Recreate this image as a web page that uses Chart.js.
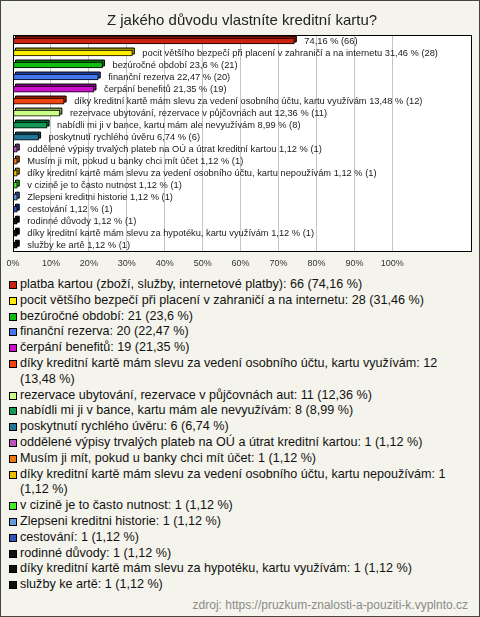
<!DOCTYPE html>
<html>
<head>
<meta charset="utf-8">
<script src="https://cdn.jsdelivr.net/npm/chart.js@4/dist/chart.umd.min.js"></script>
<style>
  html, body { margin: 0; padding: 0; }
  #frame {
    position: relative;
    width: 480px;
    height: 617px;
    box-sizing: border-box;
    border: 1px solid #444;
    background: #f5f4ec;
    font-family: 'Liberation Sans', Arial, sans-serif;
    overflow: hidden;
  }
  #chart { position: absolute; left: -1px; top: -1px; }
  #legend {
    position: absolute;
    left: 8px;
    top: 276px;
    width: 462px;
    font-size: 12.6px;
    line-height: 15.8px;
    color: #111;
  }
  .item { display: flex; align-items: flex-start; }
  .box {
    flex: none;
    width: 6px;
    height: 6px;
    border: 1px solid #000;
    margin: 4px 3px 0 0;
  }
  #source {
    position: absolute;
    right: 11px;
    top: 597px;
    font-size: 12px;
    line-height: 14px;
    color: #8a8a8a;
  }
</style>
</head>
<body>
<div id="frame">
  <canvas id="chart" width="480" height="277"></canvas>
  <div id="legend"></div>
  <div id="source">zdroj: https://pruzkum-znalosti-a-pouziti-k.vyplnto.cz</div>
</div>
<script>
const reasons = [
  'platba kartou (zboží, služby, internetové platby)',
  'pocit většího bezpečí při placení v zahraničí a na internetu',
  'bezúročné období',
  'finanční rezerva',
  'čerpání benefitů',
  'díky kreditní kartě mám slevu za vedení osobního účtu, kartu využívám',
  'rezervace ubytování, rezervace v půjčovnách aut',
  'nabídli mi ji v bance, kartu mám ale nevyužívám',
  'poskytnutí rychlého úvěru',
  'oddělené výpisy trvalých plateb na OÚ a útrat kreditní kartou',
  'Musím ji mít, pokud u banky chci mít účet',
  'díky kreditní kartě mám slevu za vedení osobního účtu, kartu nepoužívám',
  'v cizině je to často nutnost',
  'Zlepseni kreditni historie',
  'cestování',
  'rodinné důvody',
  'díky kreditní kartě mám slevu za hypotéku, kartu využívám',
  'služby ke artě',
];
const counts = [66, 28, 21, 20, 19, 12, 11, 8, 6, 1, 1, 1, 1, 1, 1, 1, 1, 1];
const percents = [74.16, 31.46, 23.6, 22.47, 21.35, 13.48, 12.36, 8.99, 6.74,
  1.12, 1.12, 1.12, 1.12, 1.12, 1.12, 1.12, 1.12, 1.12];
const colors = ['#cc2211', '#ffec00', '#11bb11', '#4477ee', '#cc11cc', '#ee4411',
  '#ccff88', '#119955', '#227799', '#bb55bb', '#ee7711', '#eebb00',
  '#44ee22', '#6699dd', '#3355bb', '#111111', '#111111', '#111111'];
const shades = ['#881100', '#aa9900', '#007700', '#2244aa', '#880088', '#992200',
  '#88aa55', '#006633', '#114455', '#773377', '#994400', '#997700',
  '#229911', '#335599', '#112277', '#000000', '#000000', '#000000'];
const xTicks = [0, 10, 20, 30, 40, 50, 60, 70, 80, 90, 100];

const fmt = v => String(v).replace('.', ',');

// bars get a small offset "depth" drawn behind them
const depthBars = {
  id: 'depthBars',
  beforeDraw(chart) {
    const a = chart.chartArea;
    const ctx = chart.ctx;
    ctx.save();
    ctx.fillStyle = '#ffffff';
    ctx.fillRect(a.left, a.top, a.right - a.left, a.bottom - a.top);
    ctx.restore();
  },
  beforeDatasetsDraw(chart) {
    const ctx = chart.ctx;
    const d = 2;
    chart.getDatasetMeta(0).data.forEach((bar, i) => {
      const { x, y, base, height } = bar.getProps(['x', 'y', 'base', 'height'], true);
      ctx.save();
      ctx.fillStyle = shades[i];
      ctx.strokeStyle = '#000';
      ctx.lineWidth = 1;
      ctx.beginPath();
      ctx.rect(base + d, y - height / 2 - d, x - base, height);
      ctx.fill();
      ctx.stroke();
      ctx.restore();
    });
  },
  afterDatasetsDraw(chart) {
    const ctx = chart.ctx;
    const a = chart.chartArea;
    ctx.save();
    ctx.font = '9.3px "Liberation Sans", Arial, sans-serif';
    ctx.fillStyle = '#1a1a1a';
    ctx.textBaseline = 'middle';
    chart.getDatasetMeta(0).data.forEach((bar, i) => {
      const value = fmt(percents[i]) + ' % (' + counts[i] + ')';
      let text = reasons[i] + ' ' + value;
      const tx = bar.x + 10;
      if (tx + ctx.measureText(text).width > a.right - 2) text = value;
      ctx.fillText(text, tx, bar.y);
    });
    ctx.strokeStyle = '#000';
    ctx.lineWidth = 1;
    ctx.strokeRect(Math.round(a.left) + 0.5, Math.round(a.top) + 0.5,
      Math.round(a.right - a.left) - 1, Math.round(a.bottom - a.top));
    ctx.restore();
  },
};

new Chart(document.getElementById('chart'), {
  type: 'bar',
  data: {
    labels: reasons,
    datasets: [{
      data: percents,
      backgroundColor: colors,
      borderColor: '#000',
      borderWidth: 1,
      borderSkipped: false,
      barThickness: 6,
    }],
  },
  options: {
    indexAxis: 'y',
    responsive: false,
    animation: false,
    layout: { padding: { left: 12, right: 8, top: 1, bottom: 2 } },
    plugins: {
      legend: { display: false },
      tooltip: { enabled: false },
      title: {
        display: true,
        text: 'Z jakého důvodu vlastníte kreditní kartu?',
        color: '#222',
        font: { family: 'Liberation Sans', size: 15, weight: 'normal' },
        padding: { top: 11, bottom: 5 },
      },
    },
    scales: {
      x: {
        min: 0,
        max: 121,
        afterBuildTicks: scale => {
          scale.ticks = xTicks.map(v => ({ value: v }));
        },
        grid: { color: '#c4c4c4', drawTicks: false },
        border: { display: false },
        ticks: {
          padding: 6.5,
          color: '#333',
          font: { family: 'Liberation Sans', size: 9 },
          callback: v => v + '%',
        },
      },
      y: { display: false },
    },
  },
  plugins: [depthBars],
});

const legend = document.getElementById('legend');
reasons.forEach((r, i) => {
  const item = document.createElement('div');
  item.className = 'item';
  const box = document.createElement('span');
  box.className = 'box';
  box.style.background = colors[i];
  const label = document.createElement('span');
  label.textContent = r + ': ' + counts[i] + ' (' + fmt(percents[i]) + ' %)';
  item.appendChild(box);
  item.appendChild(label);
  legend.appendChild(item);
});
</script>
</body>
</html>
